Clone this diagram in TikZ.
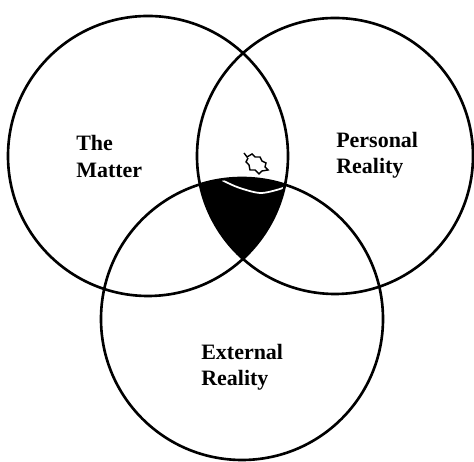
\documentclass[tikz,border=0pt]{standalone}
\usepackage{fontspec}
\setmainfont{Liberation Serif}
\begin{document}
\begin{tikzpicture}[x=0.02cm, y=0.02cm, line width=1.5pt,
  ring/.style={draw=black},
  lbl/.style={font=\fontsize{12.5}{15}\selectfont\bfseries, align=left, anchor=west, inner sep=0pt}]
	% 0. 画布范围
	\useasboundingbox (0,0) rectangle (474,462);
	
	% 1. 三圆公共部分涂黑 (最底层)
	\begin{scope}
		\clip (148,306) circle (140);
		\clip (335,306) circle (138);
		\fill[black] (242,143) circle (141);
	\end{scope}
	\draw[white, line width=1pt] plot[smooth] coordinates {(218,284) (237,275) (260,269) (280,273) (289,277)};
	\draw[line width=0.8pt] (244,309) -- (247,305) -- (252,308) -- (255,305) -- (260,305) -- (262,301) -- (266,299) -- (265,295) -- (268,292) -- (262,291) -- (259,288) -- (255,292) -- (250,292) -- (249,297) -- (246,300) -- (248,304);
	
	% 2. 三个圆
	\draw[ring] (148,306) circle (140);
	\draw[ring] (335,306) circle (138);
	\draw[ring] (242,143) circle (141);
	
	% 3. 文字标签
	\node[lbl] (matter) at (75,305.5) {The\\Matter};
	\node[lbl] (personal) at (335,307) {Personal\\Reality};
	\node[lbl] (external) at (200,95) {External\\Reality};
\end{tikzpicture}
\end{document}
